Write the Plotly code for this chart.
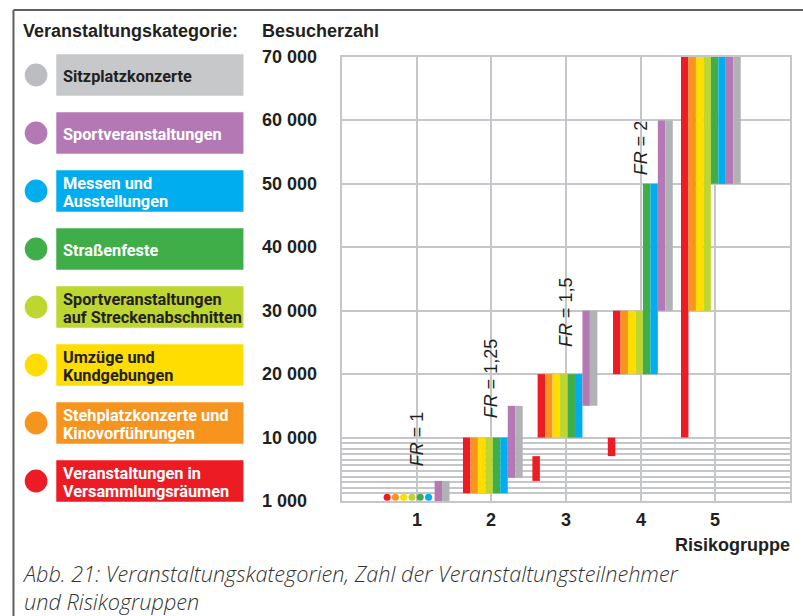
import plotly.graph_objects as go

# categories, in the order the strips stand inside each risk group (left to right)
categories = [
    "Veranstaltungen in Versammlungsräumen",
    "Stehplatzkonzerte und Kinovorführungen",
    "Umzüge und Kundgebungen",
    "Sportveranstaltungen auf Streckenabschnitten",
    "Straßenfeste",
    "Messen und Ausstellungen",
    "Sportveranstaltungen",
    "Sitzplatzkonzerte",
]
legend_lines = [
    ["Veranstaltungen in", "Versammlungsräumen"],
    ["Stehplatzkonzerte und", "Kinovorführungen"],
    ["Umzüge und", "Kundgebungen"],
    ["Sportveranstaltungen", "auf Streckenabschnitten"],
    ["Straßenfeste"],
    ["Messen und", "Ausstellungen"],
    ["Sportveranstaltungen"],
    ["Sitzplatzkonzerte"],
]
risk_groups = [1, 2, 3, 4, 5]

# visitor ranges (low, high) per category and risk group, None = not drawn as bar
ranges = [
    [None, (1000, 10000), (10000, 20000), (20000, 30000), (10000, 70000)],
    [None, (1000, 10000), (10000, 20000), (20000, 30000), (30000, 70000)],
    [None, (1000, 10000), (10000, 20000), (20000, 30000), (30000, 70000)],
    [None, (1000, 10000), (10000, 20000), (20000, 30000), (30000, 70000)],
    [None, (1000, 10000), (10000, 20000), (20000, 50000), (50000, 70000)],
    [None, (1000, 10000), (10000, 20000), (20000, 50000), (50000, 70000)],
    [(0, 3000), (3500, 15000), (15000, 30000), (30000, 60000), (50000, 70000)],
    [(0, 3000), (3500, 15000), (15000, 30000), (30000, 60000), (50000, 70000)],
]
# extra red ranges drawn just left of groups 3 and 4
extra_red_groups = [3, 4]
extra_red_ranges = [(3000, 7000), (7000, 10000)]
# risk group 1, categories 1-6: below 1000 visitors (dots)
dot_value = 500

fr_groups = [1, 2, 3, 4]
fr_values = ["1", "1,25", "1,5", "2"]

y_tick_values = [1000, 10000, 20000, 30000, 40000, 50000, 60000, 70000]
y_tick_text = ["1 000", "10 000", "20 000", "30 000", "40 000", "50 000", "60 000", "70 000"]

bar_colors = ["#ed1c24", "#f7941d", "#ffdd00", "#bed630", "#3fae49", "#00aeef", "#b479b5", "#b1b2b5"]
box_colors = ["#ed1c24", "#f7941d", "#ffdd00", "#bed630", "#3fae49", "#00aeef", "#b479b5", "#c7c8ca"]
dot_colors = ["#ed1c24", "#f7941d", "#ffdd00", "#bed630", "#3fae49", "#00aeef", "#b479b5", "#bcbdc0"]
text_colors = ["white", "white", "#231f20", "#231f20", "white", "white", "white", "#231f20"]

BOLD = "Liberation Sans, Arial, sans-serif"
NARROW = "Roboto, Liberation Sans, sans-serif"
DARK = "#231f20"
GRID = "#c5c6c9"

W, H = 803, 616
L, R, T, B = 342, 11, 57, 115

# broken scale: 0..1000 and 1000..10000 squeezed into one step, then 10 000 per step
U1 = 0.122


def to_axis(v):
    if v >= 10000:
        return v / 10000
    if v >= 1000:
        return U1 + (v - 1000) / 9000 * (1 - U1)
    return v / 1000 * U1


def fx(p):
    return (p - L) / (W - L - R)


def fy(p):
    return (H - B - p) / (H - T - B)


group_left = [0.64, 1.62, 2.62, 3.63, 4.54]
strip_w = 0.1

fig = go.Figure()

for i, cat in enumerate(categories):
    xs, bases, heights = [], [], []
    for g, r in enumerate(ranges[i]):
        if r is None:
            continue
        xs.append(group_left[g] + strip_w * i + strip_w / 2)
        bases.append(to_axis(r[0]))
        heights.append(to_axis(r[1]) - to_axis(r[0]))
    if i == 0:
        for g, r in zip(extra_red_groups, extra_red_ranges):
            xs.append(group_left[g - 1] - 0.07 + strip_w / 2)
            bases.append(to_axis(r[0]))
            heights.append(to_axis(r[1]) - to_axis(r[0]))
    fig.add_trace(go.Bar(
        x=xs, y=heights, base=bases, width=strip_w,
        marker=dict(color=bar_colors[i], line=dict(width=0)),
        name=cat, showlegend=False, hoverinfo="skip",
    ))

# dots for risk group 1
fig.add_trace(go.Scatter(
    x=[0.604 + 0.111 * i for i in range(6)],
    y=[to_axis(dot_value)] * 6,
    mode="markers",
    marker=dict(color=bar_colors[:6], size=7, line=dict(width=0)),
    showlegend=False, hoverinfo="skip",
))

# grid: major lines plus the fine lines between 1 000 and 10 000
fine = [to_axis(1000 + 900 * k) for k in range(10)]
major = [to_axis(v) for v in y_tick_values[1:]]

ann = []
for v, t in zip(y_tick_values, y_tick_text):
    yy = to_axis(v) if v >= 10000 else 0
    ann.append(dict(x=fx(260), xref="paper", y=yy, yref="y", text=t, showarrow=False,
                    xanchor="left", yanchor="middle",
                    font=dict(family=BOLD, size=18, color=DARK, weight="bold")))

ann.append(dict(x=fx(20), y=fy(31), xref="paper", yref="paper", text="Veranstaltungskategorie:",
                showarrow=False, xanchor="left", yanchor="middle",
                font=dict(family=BOLD, size=18, color=DARK, weight="bold")))
ann.append(dict(x=fx(260), y=fy(31), xref="paper", yref="paper", text="Besucherzahl",
                showarrow=False, xanchor="left", yanchor="middle",
                font=dict(family=BOLD, size=18, color=DARK, weight="bold")))
ann.append(dict(x=fx(794), y=fy(545), xref="paper", yref="paper", text="Risikogruppe",
                showarrow=False, xanchor="right", yanchor="middle",
                font=dict(family=BOLD, size=18, color=DARK, weight="bold")))

for g in risk_groups:
    ann.append(dict(x=g, xref="x", y=fy(520), yref="paper", text=str(g), showarrow=False,
                    xanchor="center", yanchor="middle",
                    font=dict(family=BOLD, size=18, color=DARK, weight="bold")))

fr_bottom = [468, 420, 349, 177]
for g, v, b in zip(fr_groups, fr_values, fr_bottom):
    ann.append(dict(x=g, xref="x", y=fy(b), yref="paper", text="<i>FR</i> = " + v,
                    showarrow=False, textangle=-90, xanchor="center", yanchor="bottom",
                    font=dict(family=BOLD, size=18, color=DARK)))

caption = "Abb. 21: Veranstaltungskategorien, Zahl der Veranstaltungsteilnehmer<br>und Risikogruppen"
ann.append(dict(x=fx(19), y=fy(587), xref="paper", yref="paper", text=caption,
                showarrow=False, xanchor="left", yanchor="middle", align="left",
                font=dict(family="Open Sans, Roboto, sans-serif", size=21.7,
                          color="#333333", style="italic", weight=300)))

shapes = []
# outer frame (top and left edge)
shapes.append(dict(type="line", xref="paper", yref="paper", x0=fx(12), x1=fx(810),
                   y0=fy(10), y1=fy(10), line=dict(color="#5f5f5f", width=2)))
shapes.append(dict(type="line", xref="paper", yref="paper", x0=fx(12), x1=fx(12),
                   y0=fy(10), y1=fy(625), line=dict(color="#5f5f5f", width=2)))

# legend: circles, coloured boxes, labels
for j in range(8):
    i = 7 - j
    cy = 75 + 58 * j
    shapes.append(dict(type="circle", xref="paper", yref="paper",
                       x0=fx(23.3), x1=fx(46.1), y0=fy(cy - 11.4), y1=fy(cy + 11.4),
                       fillcolor=dot_colors[i], line=dict(width=0)))
    shapes.append(dict(type="rect", xref="paper", yref="paper",
                       x0=fx(55), x1=fx(243), y0=fy(cy - 20.8), y1=fy(cy + 20.8),
                       fillcolor=box_colors[i], line=dict(width=0)))
    lines = legend_lines[i]
    offs = [0] if len(lines) == 1 else [-9, 9.5]
    for line, o in zip(lines, offs):
        ann.append(dict(x=fx(60), y=fy(cy + o + 1), xref="paper", yref="paper", text=line,
                        showarrow=False, xanchor="left", yanchor="middle",
                        font=dict(family=NARROW, size=16.3, color=text_colors[i], weight="bold")))

fig.update_layout(
    width=W, height=H,
    margin=dict(l=L, r=R, t=T, b=B),
    paper_bgcolor="white", plot_bgcolor="white",
    barmode="overlay",
    showlegend=False,
    xaxis=dict(range=[0, 6], tickvals=risk_groups, showticklabels=False, ticks="",
               showgrid=True, gridcolor=GRID, gridwidth=1.5, zeroline=False,
               showline=True, linecolor=GRID, linewidth=1.5, mirror=True, fixedrange=True),
    yaxis=dict(range=[0, 7], tickvals=fine + major, showticklabels=False, ticks="",
               showgrid=True, gridcolor=GRID, gridwidth=1.5, zeroline=False,
               showline=True, linecolor=GRID, linewidth=1.5, mirror=True, fixedrange=True),
    annotations=ann,
    shapes=shapes,
)

# the page's default body margin would shift the figure by 8 px
fig.write_html("out.html", config={"displayModeBar": False},
               post_script="document.body.style.margin='0';")
